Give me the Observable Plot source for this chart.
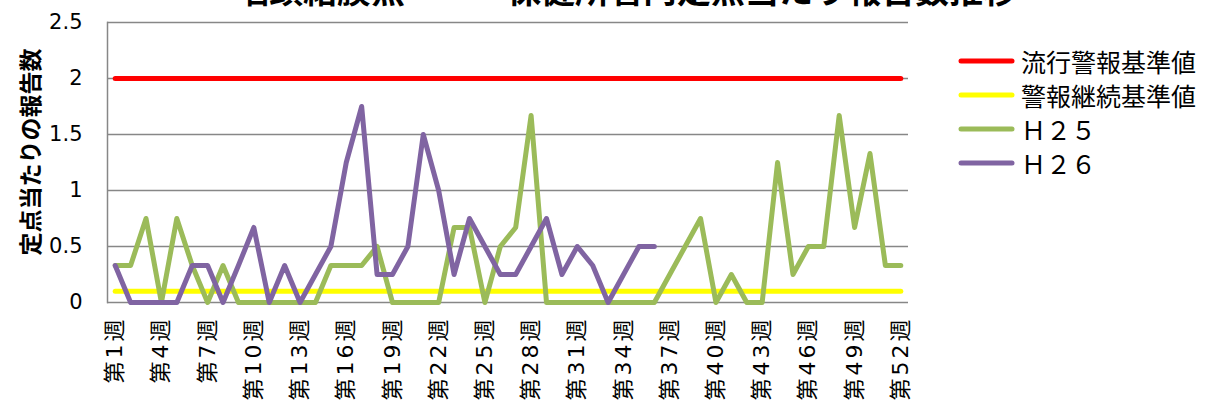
<!DOCTYPE html>
<html>
<head>
<meta charset="utf-8">
<script src="https://cdn.jsdelivr.net/npm/d3@7"></script>
<script src="https://cdn.jsdelivr.net/npm/@observablehq/plot@0.6"></script>
<style>
  html, body { margin: 0; padding: 0; background: #fff; }
  body { width: 1206px; height: 405px; position: relative; overflow: hidden;
         font-family: "Liberation Sans", "Noto Sans CJK JP", sans-serif; }
  #title { position: absolute; left: 0; width: 1252px; top: -28px; text-align: center;
           font-family: "Noto Sans CJK JP", sans-serif; font-weight: bold; font-size: 34px; line-height: 1; white-space: nowrap; }
  #ylabel { position: absolute; left: 29px; top: 152px; transform: translate(-50%, -50%) rotate(-90deg);
            font-family: "Noto Sans CJK JP", sans-serif; font-weight: bold; font-size: 23px; white-space: nowrap; line-height: 1; }
  #legend { position: absolute; left: 958px; top: 44px; font-family: "Noto Sans CJK JP", sans-serif; font-size: 25px; }
  .item { display: flex; align-items: center; height: 34px; }
  .item svg { margin-right: 5px; }
  #chart { position: absolute; left: 0; top: 0; }
  #chart svg [aria-label="x-axis tick label"] text { letter-spacing: 3px; }
</style>
</head>
<body>
<div id="title"></div>
<div id="chart"></div>
<div id="ylabel"></div>
<div id="legend"></div>
<script>
const titleText = "咽頭結膜熱　－　保健所管内定点当たり報告数推移";
const yTitle = "定点当たりの報告数";

const weeks = ["第1週","第2週","第3週","第4週","第5週","第6週","第7週","第8週","第9週","第10週",
  "第11週","第12週","第13週","第14週","第15週","第16週","第17週","第18週","第19週","第20週",
  "第21週","第22週","第23週","第24週","第25週","第26週","第27週","第28週","第29週","第30週",
  "第31週","第32週","第33週","第34週","第35週","第36週","第37週","第38週","第39週","第40週",
  "第41週","第42週","第43週","第44週","第45週","第46週","第47週","第48週","第49週","第50週",
  "第51週","第52週"];
const tickLabels = ["第1週","第4週","第7週","第10週","第13週","第16週","第19週","第22週","第25週",
  "第28週","第31週","第34週","第37週","第40週","第43週","第46週","第49週","第52週"];
const yTicks = [0, 0.5, 1, 1.5, 2, 2.5];

const seriesNames = ["流行警報基準値", "警報継続基準値", "Ｈ２５", "Ｈ２６"];
const seriesColors = ["#FF0000", "#FFFF00", "#9BBB59", "#8064A2"];

const epidemicLevel = 2;     // 流行警報基準値
const continueLevel = 0.1;   // 警報継続基準値

const h25 = [0.33,0.33,0.75,0,0.75,0.33,0,0.33,0,0,
  0,0,0,0,0.33,0.33,0.33,0.5,0,0,
  0,0,0.67,0.67,0,0.5,0.67,1.67,0,0,
  0,0,0,0,0,0,0.25,0.5,0.75,0,
  0.25,0,0,1.25,0.25,0.5,0.5,1.67,0.67,1.33,
  0.33,0.33];
const h26 = [0.33,0,0,0,0,0.33,0.33,0,0.33,0.67,
  0,0.33,0,0.25,0.5,1.25,1.75,0.25,0.25,0.5,
  1.5,1.0,0.25,0.75,0.5,0.25,0.25,0.5,0.75,0.25,
  0.5,0.33,0,0.25,0.5,0.5];

const rows = weeks.map((w, i) => ({
  week: w,
  epi: epidemicLevel,
  cont: continueLevel,
  h25: h25[i],
  h26: i < h26.length ? h26[i] : null
}));

document.getElementById("title").textContent = titleText;
document.getElementById("ylabel").textContent = yTitle;

const lineOpts = {strokeWidth: 5, strokeLinejoin: "round", strokeLinecap: "round"};
const chart = Plot.plot({
  width: 1206,
  height: 405,
  marginLeft: 107,
  marginRight: 298,
  marginTop: 22,
  marginBottom: 103,
  style: {fontFamily: '"Liberation Sans", "Noto Sans CJK JP", sans-serif', background: "transparent", color: "#000"},
  x: {type: "band", domain: weeks, padding: 0, align: 0.5, round: false},
  y: {domain: [0, 2.5]},
  marks: [
    Plot.gridY(yTicks, {stroke: "#878787", strokeOpacity: 1, strokeWidth: 1.5}),
    Plot.frame({anchor: "left", stroke: "#878787", strokeWidth: 1.5}),
    Plot.axisY({ticks: yTicks, tickSize: 0, tickPadding: 25, fontSize: 21, label: null, tickFormat: d => String(d),
                fontFamily: '"DejaVu Sans", sans-serif'}),
    Plot.axisX({ticks: tickLabels, tickSize: 0, tickRotate: -90, tickPadding: 14, fontSize: 22, label: null,
                fontFamily: '"DejaVu Sans", "Noto Sans CJK JP", sans-serif'}),
    Plot.lineY(rows, {x: "week", y: "epi", stroke: seriesColors[0], ...lineOpts}),
    Plot.lineY(rows, {x: "week", y: "cont", stroke: seriesColors[1], ...lineOpts}),
    Plot.lineY(rows, {x: "week", y: "h25", stroke: seriesColors[2], ...lineOpts}),
    Plot.lineY(rows, {x: "week", y: "h26", stroke: seriesColors[3], ...lineOpts})
  ]
});
document.getElementById("chart").appendChild(chart);

const legend = document.getElementById("legend");
seriesNames.forEach((name, i) => {
  const item = document.createElement("div");
  item.className = "item";
  item.innerHTML = `<svg width="58" height="8"><line x1="3" y1="4" x2="54" y2="4" stroke="${seriesColors[i]}" stroke-width="5" stroke-linecap="round"/></svg><span>${name}</span>`;
  legend.appendChild(item);
});
</script>
</body>
</html>
